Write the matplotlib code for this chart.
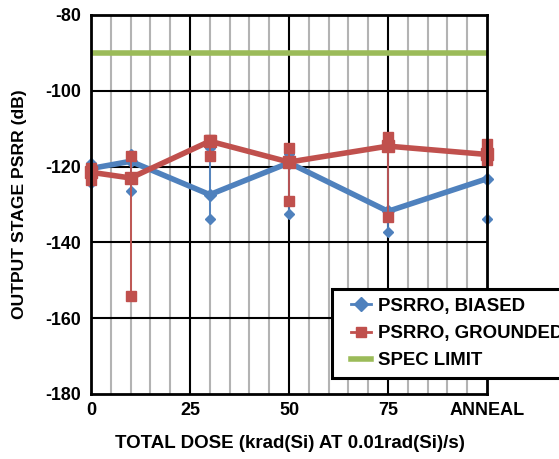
import matplotlib
matplotlib.use("Agg")
import matplotlib.pyplot as plt
from matplotlib.lines import Line2D
from matplotlib.patches import Rectangle

plt.rcParams['font.family'] = ['Liberation Sans', 'DejaVu Sans']
plt.rcParams['font.weight'] = 'bold'

x_pos = [0, 10, 30, 50, 75, 100]
x_tick_vals = [0, 25, 50, 75, 100]
x_tick_labels = ['0', '25', '50', '75', 'ANNEAL']
y_ticks = [-80, -100, -120, -140, -160, -180]

biased_mean = [-120.5, -118.6, -127.4, -119.0, -131.8, -123.2]
biased_max = [-119.0, -116.8, -115.1, -116.8, -112.8, -118.0]
biased_min = [-124.3, -126.5, -133.8, -132.5, -137.2, -133.8]

grounded_mean = [-121.5, -123.0, -113.3, -118.8, -114.6, -116.8]
grounded_max = [-120.3, -117.3, -113.0, -115.1, -112.2, -114.1]
grounded_min = [-123.5, -154.2, -117.3, -129.0, -133.3, -118.2]

spec_limit = -90
labels = ['PSRRO, BIASED', 'PSRRO, GROUNDED', 'SPEC LIMIT']

blue = '#4F81BD'
red = '#C0504D'
green = '#9BBB59'

W, H = 559, 459
fig = plt.figure(figsize=(W/100, H/100), dpi=100)
ax = fig.add_axes([91/W, 1-394/H, (487-91)/W, (394-15)/H])

ax.set_xlim(0, 100)
ax.set_ylim(-180, -80)

# grid
for xv in range(5, 100, 5):
    if xv % 25 != 0:
        ax.axvline(xv, color='#B3B3B3', lw=1.5, zorder=1)
for xv in [25, 50, 75]:
    ax.axvline(xv, color='black', lw=1.5, zorder=1.5)
for yv in [-100, -120, -140, -160]:
    ax.axhline(yv, color='black', lw=1.5, zorder=1.5)

# spec limit
ax.plot([0, 100], [spec_limit, spec_limit], color=green, lw=4, zorder=3,
        solid_capstyle='butt', clip_on=False)

# biased
ax.vlines(x_pos, biased_min, biased_max, color=blue, lw=1.3, zorder=3)
ax.plot(x_pos, biased_max, ls='none', marker='D', ms=5, color=blue, zorder=3.5, clip_on=False)
ax.plot(x_pos, biased_min, ls='none', marker='D', ms=5, color=blue, zorder=3.5, clip_on=False)
ax.plot(x_pos, biased_mean, color=blue, lw=4, marker='D', ms=6, zorder=4, clip_on=False)

# grounded
ax.vlines(x_pos, grounded_min, grounded_max, color=red, lw=1.3, zorder=4.5)
ax.plot(x_pos, grounded_max, ls='none', marker='s', ms=7, color=red, zorder=4.6, clip_on=False)
ax.plot(x_pos, grounded_min, ls='none', marker='s', ms=7, color=red, zorder=4.6, clip_on=False)
ax.plot(x_pos, grounded_mean, color=red, lw=4, marker='s', ms=8, zorder=5, clip_on=False)

for sp in ax.spines.values():
    sp.set_linewidth(2)
    sp.set_color('black')
    sp.set_zorder(6)

ax.set_xticks(x_tick_vals)
ax.set_xticklabels(x_tick_labels, fontsize=13, fontweight='bold')
ax.set_yticks(y_ticks)
ax.set_yticklabels([str(v) for v in y_ticks], fontsize=12.8, fontweight='bold')
ax.tick_params(axis='y', length=0, pad=7)
ax.tick_params(axis='x', length=0, pad=6)

ax.set_xlabel('TOTAL DOSE (krad(Si) AT 0.01rad(Si)/s)', fontsize=13.5, fontweight='bold')
ax.xaxis.set_label_coords((290-91)/(487-91), -(443-394)/(394-15), transform=ax.transAxes)
ax.xaxis.label.set_va('center')
ax.set_ylabel('OUTPUT STAGE PSRR (dB)', fontsize=12.6, fontweight='bold')
ax.yaxis.set_label_coords(-(91-20)/(487-91), 0.5, transform=ax.transAxes)
ax.yaxis.label.set_va('center')

# legend frame
frame = Rectangle((332/W, 1-378/H), (600-332)/W, (378-289)/H, transform=fig.transFigure,
                  facecolor='white', edgecolor='black', lw=2.2, zorder=9, clip_on=False)
fig.patches.append(frame)

handles = [
    Line2D([], [], color=blue, lw=2, marker='D', ms=7),
    Line2D([], [], color=red, lw=2, marker='s', ms=7),
    Line2D([], [], color=green, lw=4),
]
leg = fig.legend(handles, labels, loc='center left',
                 bbox_to_anchor=(351/W, 1-333.5/H),
                 bbox_transform=fig.transFigure, frameon=False,
                 prop={'weight': 'bold', 'size': 13.4},
                 handlelength=1.1, handletextpad=0.35, borderpad=0.0,
                 labelspacing=0.55, borderaxespad=0)
leg.set_zorder(10)

fig.savefig('out.png', dpi=100)
